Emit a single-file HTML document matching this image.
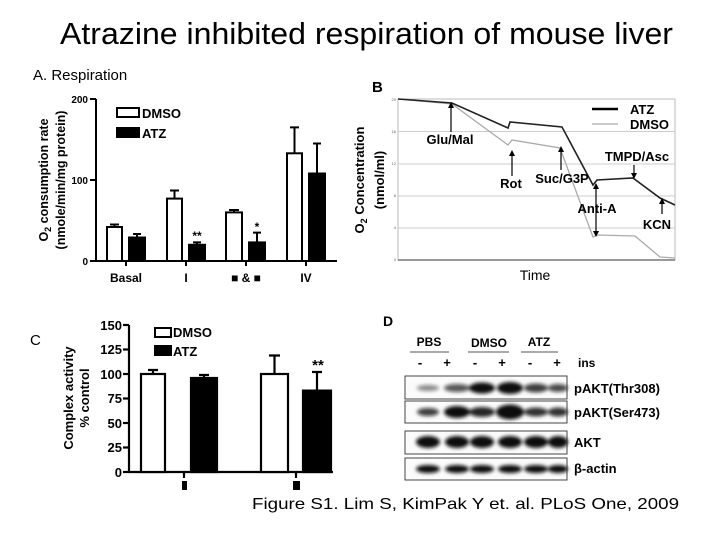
<!DOCTYPE html>
<html><head><meta charset="utf-8"><style>
html,body{margin:0;padding:0;background:#fff;}
svg{display:block;font-family:"Liberation Sans",Arial,sans-serif;}
.b{font-weight:bold;}
</style></head><body>
<svg width="720" height="540" viewBox="0 0 720 540" xmlns="http://www.w3.org/2000/svg">
<defs><filter id="bl" x="-20%" y="-50%" width="140%" height="200%"><feGaussianBlur stdDeviation="1.8"/></filter></defs>
<rect width="720" height="540" fill="#fff"/>
<text x="60" y="44" font-size="31" textLength="613" lengthAdjust="spacingAndGlyphs">Atrazine inhibited respiration of mouse liver</text>

<!-- Panel A -->
<text x="33" y="80" font-size="15">A. Respiration</text>
<g transform="translate(48,180) rotate(-90)"><text x="0" y="0" font-size="12.5" class="b" text-anchor="middle">O<tspan font-size="9" dy="3">2</tspan><tspan dy="-3"> consumption rate</tspan></text></g>
<g transform="translate(65,180) rotate(-90)"><text x="0" y="0" font-size="12.5" class="b" text-anchor="middle">(nmole/min/mg protein)</text></g>
<g stroke="#000" stroke-width="2" fill="none">
<line x1="96" y1="99" x2="96" y2="262"/><line x1="95" y1="261" x2="337" y2="261"/>
<line x1="90" y1="99" x2="96" y2="99"/><line x1="90" y1="180" x2="96" y2="180"/><line x1="90" y1="261" x2="96" y2="261"/>
<line x1="126" y1="261" x2="126" y2="266"/><line x1="186" y1="261" x2="186" y2="266"/><line x1="246" y1="261" x2="246" y2="266"/><line x1="306" y1="261" x2="306" y2="266"/>
</g>
<g font-size="10" class="b" text-anchor="end"><text x="88" y="103">200</text><text x="88" y="184">100</text><text x="88" y="265">0</text></g>
<g stroke="#000" stroke-width="2">
<rect x="107" y="227" width="15" height="34" fill="#fff"/><rect x="129" y="237.5" width="16" height="23.5" fill="#000"/>
<rect x="167" y="198.6" width="15" height="62.4" fill="#fff"/><rect x="189" y="244.8" width="16" height="16.2" fill="#000"/>
<rect x="226" y="212.4" width="16" height="48.6" fill="#fff"/><rect x="249" y="242.4" width="16" height="18.6" fill="#000"/>
<rect x="287" y="153.3" width="15" height="107.7" fill="#fff"/><rect x="309" y="173.5" width="16" height="87.5" fill="#000"/>
<path d="M114.5 227V224.5M110 224.5H119M137 237.5V234M133 234H141M174.5 198.6V190.5M170 190.5H179M197 244.8V242.4M193 242.4H201M234 212.4V210M229 210H239M257 242.4V232.6M253 232.6H261M294.5 153.3V127.4M290 127.4H299M317 173.5V143.5M313 143.5H321" fill="none"/>
</g>
<text x="197" y="240" font-size="12" class="b" text-anchor="middle">**</text>
<text x="257" y="231" font-size="12" class="b" text-anchor="middle">*</text>
<rect x="117" y="108" width="22" height="9" fill="#fff" stroke="#000" stroke-width="2"/><text x="142" y="118" font-size="13" class="b">DMSO</text>
<rect x="116" y="127" width="24" height="11" fill="#000"/><text x="142" y="138" font-size="13" class="b">ATZ</text>
<g font-size="12" class="b" text-anchor="middle"><text x="126" y="282">Basal</text><text x="186" y="282">I</text><text x="246" y="282">■ &amp; ■</text><text x="306" y="282">IV</text></g>

<!-- Panel B -->
<text x="372" y="92" font-size="15" class="b">B</text>
<rect x="398" y="99" width="277" height="161" fill="#fff" stroke="#bbb" stroke-width="1"/>
<g stroke="#ccc" stroke-width="1"><line x1="398" y1="131.5" x2="675" y2="131.5"/><line x1="398" y1="164" x2="675" y2="164"/><line x1="398" y1="196" x2="675" y2="196"/><line x1="398" y1="228" x2="675" y2="228"/></g>
<line x1="398" y1="260" x2="675" y2="260" stroke="#777" stroke-width="1.5"/>
<g font-size="4" fill="#666" text-anchor="end"><text x="396" y="101">20</text><text x="396" y="133">16</text><text x="396" y="165">12</text><text x="396" y="197">8</text><text x="396" y="229">4</text><text x="396" y="261">0</text></g>
<polyline fill="none" stroke="#aaa" stroke-width="1.3" points="398,99 452,104 508,145 512,140 560,148 593,237 597,235 635,236 660,257 675,258"/>
<polyline fill="none" stroke="#222" stroke-width="1.6" points="398,99 452,103 508,128 510,122 562,127 593,185 597,180 633,178 660,198 675,205"/>
<g transform="translate(364,180) rotate(-90)"><text x="0" y="0" font-size="13" class="b" text-anchor="middle">O<tspan font-size="9" dy="3">2</tspan><tspan dy="-3"> Concentration</tspan></text></g>
<g transform="translate(384,180) rotate(-90)"><text x="0" y="0" font-size="13" class="b" text-anchor="middle">(nmol/ml)</text></g>
<text x="535" y="280" font-size="14" text-anchor="middle">Time</text>
<line x1="592" y1="109" x2="618" y2="109" stroke="#000" stroke-width="2.5"/><text x="630" y="114" font-size="13" class="b">ATZ</text>
<line x1="592" y1="124" x2="618" y2="124" stroke="#aaa" stroke-width="1.3"/><text x="630" y="129" font-size="13" class="b">DMSO</text>
<g stroke="#000" stroke-width="1.2" fill="none">
<line x1="451" y1="132" x2="451" y2="106"/><line x1="512" y1="176" x2="512" y2="154"/><line x1="561" y1="170" x2="561" y2="150"/>
<line x1="634" y1="165" x2="634" y2="175"/><line x1="596" y1="187" x2="596" y2="233"/><line x1="662" y1="214" x2="662" y2="202"/>
</g>
<g fill="#000">
<path d="M448 108 L451 102 L454 108Z"/><path d="M509 156 L512 150 L515 156Z"/><path d="M558 152 L561 146 L564 152Z"/>
<path d="M631 173 L634 179 L637 173Z"/><path d="M593 189 L596 183 L599 189Z"/><path d="M593 231 L596 237 L599 231Z"/><path d="M659 204 L662 198 L665 204Z"/>
</g>
<g font-size="13" class="b" text-anchor="middle">
<text x="450" y="144">Glu/Mal</text><text x="511" y="188">Rot</text><text x="562" y="183">Suc/G3P</text>
<text x="637" y="161">TMPD/Asc</text><text x="597" y="213">Anti-A</text><text x="657" y="229">KCN</text>
</g>

<!-- Panel C -->
<text x="30" y="345" font-size="15">C</text>
<g transform="translate(73,398) rotate(-90)"><text x="0" y="0" font-size="13" class="b" text-anchor="middle">Complex activity</text></g>
<g transform="translate(89,398) rotate(-90)"><text x="0" y="0" font-size="13" class="b" text-anchor="middle">% control</text></g>
<g stroke="#000" stroke-width="2.2" fill="none">
<line x1="129" y1="325" x2="129" y2="473"/><line x1="128" y1="472" x2="333" y2="472"/>
<line x1="123" y1="325" x2="129" y2="325"/><line x1="123" y1="349.5" x2="129" y2="349.5"/><line x1="123" y1="374" x2="129" y2="374"/><line x1="123" y1="398.5" x2="129" y2="398.5"/><line x1="123" y1="423" x2="129" y2="423"/><line x1="123" y1="447.5" x2="129" y2="447.5"/><line x1="123" y1="472" x2="129" y2="472"/>
<line x1="184" y1="472" x2="184" y2="478"/><line x1="296" y1="472" x2="296" y2="478"/>
</g>
<g font-size="13" class="b" text-anchor="end"><text x="122" y="330">150</text><text x="122" y="354">125</text><text x="122" y="379">100</text><text x="122" y="403">75</text><text x="122" y="428">50</text><text x="122" y="452">25</text><text x="122" y="477">0</text></g>
<g stroke="#000" stroke-width="2.2">
<rect x="141" y="374" width="24" height="98" fill="#fff"/><rect x="191" y="378" width="26" height="94" fill="#000"/>
<rect x="261" y="374" width="27" height="98" fill="#fff"/><rect x="303" y="390.6" width="28" height="81.4" fill="#000"/>
<path d="M153 374V370M148 370H158M204 378V375M199 375H209M274.5 374V355.5M269 355.5H280M317 390.6V372M312 372H322" fill="none"/>
</g>
<text x="318" y="370" font-size="15" class="b" text-anchor="middle">**</text>
<rect x="155" y="328" width="16" height="9" fill="#fff" stroke="#000" stroke-width="2"/><text x="173" y="337" font-size="13" class="b">DMSO</text>
<rect x="154" y="345" width="18" height="11" fill="#000"/><text x="173" y="356" font-size="13" class="b">ATZ</text>
<rect x="182" y="481" width="5" height="9" fill="#000"/><rect x="293" y="481" width="7" height="9" fill="#000"/>

<!-- Panel D -->
<text x="383" y="326" font-size="14" class="b">D</text>
<g font-size="12" class="b" text-anchor="middle"><text x="429" y="346">PBS</text><text x="489" y="347">DMSO</text><text x="539" y="346">ATZ</text></g>
<g stroke="#555" stroke-width="1"><line x1="410" y1="352" x2="449" y2="352"/><line x1="468" y1="352" x2="509" y2="352"/><line x1="521" y1="352" x2="558" y2="352"/></g>
<g font-size="13" class="b" text-anchor="middle"><text x="420" y="367">-</text><text x="447" y="367">+</text><text x="475" y="367">-</text><text x="502" y="367">+</text><text x="530" y="367">-</text><text x="557" y="367">+</text></g>
<text x="578" y="367" font-size="12" class="b">ins</text>
<g fill="#fbfbfb" stroke="#444" stroke-width="1">
<rect x="405" y="376" width="162" height="23"/><rect x="405" y="401" width="162" height="22"/><rect x="405" y="431" width="162" height="23"/><rect x="405" y="458" width="162" height="22"/>
</g>
<g filter="url(#bl)" fill="#111">
<ellipse cx="428" cy="388" rx="11" ry="3" opacity="0.5"/><ellipse cx="457" cy="388" rx="13" ry="4" opacity="0.7"/><ellipse cx="482" cy="388" rx="13" ry="5.5"/><ellipse cx="510" cy="388" rx="13" ry="6"/><ellipse cx="536" cy="388" rx="12" ry="4.5" opacity="0.8"/><ellipse cx="558" cy="388" rx="10" ry="4" opacity="0.75"/>
<ellipse cx="428" cy="412" rx="11" ry="4" opacity="0.8"/><ellipse cx="457" cy="412" rx="13" ry="6"/><ellipse cx="482" cy="412" rx="13" ry="5" opacity="0.9"/><ellipse cx="510" cy="412" rx="14" ry="7.5"/><ellipse cx="536" cy="412" rx="12" ry="4.5" opacity="0.85"/><ellipse cx="558" cy="412" rx="10" ry="4.5" opacity="0.85"/>
<ellipse cx="428" cy="442" rx="12" ry="6"/><ellipse cx="457" cy="442" rx="12" ry="6"/><ellipse cx="482" cy="442" rx="12" ry="6"/><ellipse cx="510" cy="442" rx="12" ry="6"/><ellipse cx="536" cy="442" rx="12" ry="6"/><ellipse cx="558" cy="442" rx="10" ry="6"/>
<ellipse cx="428" cy="469" rx="12" ry="4"/><ellipse cx="457" cy="469" rx="12" ry="4"/><ellipse cx="482" cy="469" rx="12" ry="4"/><ellipse cx="510" cy="469" rx="12" ry="4"/><ellipse cx="536" cy="469" rx="12" ry="4"/><ellipse cx="558" cy="469" rx="10" ry="4"/>
</g>
<g font-size="13" class="b"><text x="574" y="393">pAKT(Thr308)</text><text x="574" y="417">pAKT(Ser473)</text><text x="574" y="447">AKT</text><text x="574" y="473">β-actin</text></g>

<text x="252" y="509" font-size="16" textLength="427" lengthAdjust="spacingAndGlyphs">Figure S1. Lim S, KimPak Y et. al. PLoS One, 2009</text>
</svg>
</body></html>
